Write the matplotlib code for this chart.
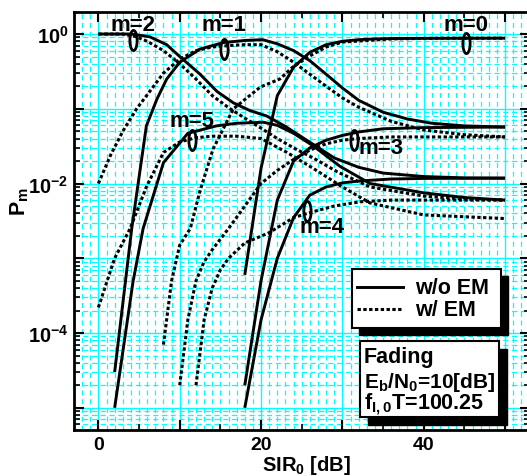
import numpy as np
import matplotlib
matplotlib.use("Agg")
import matplotlib.pyplot as plt
from matplotlib.path import Path
from matplotlib.patches import Rectangle
from matplotlib.lines import Line2D
from matplotlib.ticker import MultipleLocator, LogLocator, FuncFormatter, NullFormatter

plt.rcParams['font.family'] = ['Liberation Sans', 'DejaVu Sans']
plt.rcParams['font.weight'] = 'bold'
plt.rcParams['mathtext.fontset'] = 'custom'
plt.rcParams['mathtext.rm'] = 'Liberation Sans:bold'
plt.rcParams['mathtext.it'] = 'Liberation Sans:bold'
plt.rcParams['mathtext.bf'] = 'Liberation Sans:bold'
plt.rcParams['mathtext.default'] = 'rm'

# ---- data: P_m versus SIR_0 [dB] ----
# w/o EM (solid)
m0_s_x = [18, 20, 22, 24, 26, 28, 30, 32, 34, 36, 40, 50]
m0_s_y = [6e-4, 0.016, 0.15, 0.36, 0.57, 0.72, 0.8, 0.84, 0.86, 0.87, 0.875, 0.88]
m1_s_x = [2, 4.1, 5.9, 7.2, 8.4, 10, 12.5, 15.4, 18, 20.2, 22, 24, 26, 28, 30, 32, 35, 38, 41, 45, 50]
m1_s_y = [3e-5, 2.5e-3, 0.059, 0.135, 0.25, 0.42, 0.63, 0.77, 0.82, 0.84, 0.74, 0.6, 0.44, 0.29, 0.19,
          0.13, 0.09, 0.073, 0.064, 0.059, 0.057]
m2_s_x = [0, 4, 6.3, 8.4, 10, 12.5, 14.6, 16.6, 18.6, 20.7, 23, 26.3, 29, 32, 35, 40, 45, 50]
m2_s_y = [1.0, 1.0, 0.92, 0.72, 0.5, 0.29, 0.17, 0.12, 0.095, 0.08, 0.058, 0.034, 0.022, 0.0165,
          0.0138, 0.0124, 0.0119, 0.0118]
m3_s_x = [18, 20, 22, 24, 26, 28, 30, 32, 35, 40, 50]
m3_s_y = [2e-5, 5e-4, 6e-3, 0.02, 0.03, 0.038, 0.044, 0.049, 0.054, 0.056, 0.057]
m4_s_x = [18, 20, 22, 24, 26, 28, 30, 32, 36, 40, 50]
m4_s_y = [1e-5, 1.5e-4, 1e-3, 3.5e-3, 7e-3, 9e-3, 0.0102, 0.0108, 0.0115, 0.0117, 0.0118]
m5_s_x = [2, 4.25, 5.5, 8, 11, 14.5, 17, 20.3, 22, 24, 26.4, 29.7, 33.4, 40, 45, 50]
m5_s_y = [1e-5, 4.8e-4, 2.5e-3, 0.019, 0.047, 0.059, 0.064, 0.066, 0.06, 0.047, 0.032, 0.017, 0.01,
          0.0075, 0.0065, 0.006]

# w/ EM (dotted)
m0_d_x = [8, 9, 10, 11.3, 12.5, 14.1, 16.6, 19.9, 22.3, 24, 26, 28, 30, 36, 42, 50]
m0_d_y = [7e-5, 5e-4, 1.5e-3, 2.5e-3, 8e-3, 0.029, 0.1, 0.195, 0.25, 0.37, 0.51, 0.67, 0.78, 0.86,
          0.88, 0.88]
m1_d_x = [0, 1.5, 3, 4.7, 6.3, 8, 10, 12, 14, 16, 18, 20, 22, 24, 26, 28, 30, 32, 36, 40, 45, 50]
m1_d_y = [0.01, 0.024, 0.05, 0.1, 0.17, 0.3, 0.46, 0.6, 0.67, 0.7, 0.72, 0.72, 0.58, 0.42, 0.29, 0.2,
          0.14, 0.105, 0.068, 0.052, 0.045, 0.042]
m2_d_x = [0, 3, 4.5, 6, 8, 10, 12, 14, 16.2, 18, 20, 22, 24, 26.4, 29.4, 33.4, 40, 45, 50]
m2_d_y = [1.0, 1.0, 0.93, 0.8, 0.6, 0.4, 0.25, 0.15, 0.1, 0.075, 0.055, 0.04, 0.03, 0.022, 0.0143,
          0.009, 0.0068, 0.0062, 0.006]
m3_d_x = [10, 11, 12, 13, 14, 16, 18, 20, 22, 24, 26, 28, 30, 32, 36, 50]
m3_d_y = [2e-5, 1.5e-4, 5e-4, 9e-4, 1.3e-3, 2.5e-3, 5e-3, 0.01, 0.015, 0.021, 0.028, 0.034, 0.038,
          0.04, 0.042, 0.042]
m4_d_x = [12, 13, 14, 15, 16, 18, 21, 24, 26.4, 29, 32.2, 36, 50]
m4_d_y = [2e-5, 1.5e-4, 4e-4, 7e-4, 1e-3, 1.6e-3, 2.2e-3, 3.5e-3, 4.2e-3, 5e-3, 5.7e-3, 6e-3, 6e-3]
m5_d_x = [0, 2, 3.9, 5.9, 8, 10, 12, 14, 17, 20, 23.2, 26.4, 30, 33.4, 40, 50]
m5_d_y = [2.2e-4, 1e-3, 2.5e-3, 9e-3, 0.026, 0.036, 0.041, 0.043, 0.043, 0.04, 0.026, 0.016, 0.009,
          0.0055, 0.0038, 0.0034]

solid = [(m0_s_x, m0_s_y), (m1_s_x, m1_s_y), (m2_s_x, m2_s_y),
         (m3_s_x, m3_s_y), (m4_s_x, m4_s_y), (m5_s_x, m5_s_y)]
dotted = [(m0_d_x, m0_d_y), (m1_d_x, m1_d_y), (m2_d_x, m2_d_y),
          (m3_d_x, m3_d_y), (m4_d_x, m4_d_y), (m5_d_x, m5_d_y)]

m_names = ['m=0', 'm=1', 'm=2', 'm=3', 'm=4', 'm=5']
# where each group is marked with an ellipse (SIR_0 in dB)
ellipse_x = [45.2, 15.4, 4.2, 31.4, 25.6, 11.5]
label_x = [45.2, 15.4, 4.2, 34.7, 27.5, 11.5]
label_y = [1.36, 1.36, 1.36, 0.0299, 0.0027, 0.0707]

fig = plt.figure(figsize=(5.27, 4.77), dpi=100)
ax = fig.add_axes([0.1404, 0.0964, 0.8653, 0.8763])
ax.set_yscale('log')
ax.set_xlim(-3, 53.07)
ax.set_ylim(5.04e-6, 1.97)

cyan = '#00ffff'
# grid: solid at majors, dashed at minors
for gx in range(-3, 54):
    if gx % 10 == 0:
        ax.axvline(gx, color=cyan, lw=1.0, zorder=0)
    else:
        ax.axvline(gx, color=cyan, lw=0.9, ls=(0, (4, 3)), zorder=0)
for e in range(-6, 1):
    ax.axhline(10.0 ** e, color=cyan, lw=1.0, zorder=0)
    for s in range(2, 10):
        ax.axhline(s * 10.0 ** e, color=cyan, lw=0.9, ls=(0, (4, 3)), zorder=0)

for (sx, sy), (dx, dy) in zip(solid, dotted):
    ax.plot(sx, sy, color='black', lw=2.1, solid_capstyle='butt', zorder=3)
    ax.plot(dx, dy, color='black', lw=2.2, ls=(0, (1.1, 0.8)), zorder=3)

# ellipse marker
t = np.linspace(0, 2 * np.pi, 60)
ell = Path(np.column_stack([0.36 * np.cos(t), np.sin(t)]), closed=True)
for i, ex in enumerate(ellipse_x):
    ys = np.interp(ex, solid[i][0], np.log10(solid[i][1]))
    yd = np.interp(ex, dotted[i][0], np.log10(dotted[i][1]))
    ax.plot(ex, 10 ** ((ys + yd) / 2 - 0.06), marker=ell, ms=14.5, mfc='none',
            mec='black', mew=2.0, zorder=4)
    ax.text(label_x[i], label_y[i], m_names[i], fontsize=16, fontweight='bold',
            ha='center', va='center', zorder=5)

# ticks
ax.xaxis.set_major_locator(MultipleLocator(10))
ax.xaxis.set_minor_locator(MultipleLocator(5))
ax.xaxis.set_major_formatter(FuncFormatter(
    lambda v, p: '%d' % round(v) if round(v) % 20 == 0 and v >= 0 else ''))
ax.yaxis.set_major_locator(LogLocator(base=10, numticks=20))
ax.yaxis.set_minor_locator(LogLocator(base=10, subs=np.arange(2, 10), numticks=20))
ax.yaxis.set_minor_formatter(NullFormatter())
ax.yaxis.set_major_formatter(FuncFormatter(
    lambda v, p: r'$10^{%d}$' % round(np.log10(v)) if round(np.log10(v)) % 2 == 0 else ''))
ax.tick_params(which='both', direction='in', top=True, right=True)
ax.tick_params(axis='x', labelsize=14)
ax.tick_params(axis='y', labelsize=14.5)
ax.tick_params(which='major', length=7, width=1.5, pad=4)
ax.tick_params(which='minor', length=4, width=1.2)
for sp in ax.spines.values():
    sp.set_linewidth(2.0)

ax.set_xlabel(r'SIR$_0$ [dB]', fontsize=14.5, fontweight='bold')
ax.set_ylabel(r'P$_m$', fontsize=15.5, fontweight='bold')
ax.xaxis.set_label_coords(0.509, -0.055)
ax.yaxis.set_label_coords(-0.095, 0.55)

# legend box with shadow
tr = ax.transAxes
ax.add_patch(Rectangle((0.6096 + 0.0154, 0.244 - 0.0167), 0.3268, 0.141, transform=tr,
                       facecolor='black', edgecolor='black', zorder=6, clip_on=False))
ax.add_patch(Rectangle((0.6096, 0.244), 0.3268, 0.141, transform=tr, facecolor='white',
                       edgecolor='black', lw=1.5, zorder=7, clip_on=False))
ax.add_line(Line2D([0.6206, 0.7215], [0.342, 0.342], transform=tr, color='black', lw=2.1, zorder=8))
ax.add_line(Line2D([0.6206, 0.7215], [0.289, 0.289], transform=tr, color='black', lw=2.2,
                   ls=(0, (1.1, 0.8)), zorder=8))
ax.text(0.748, 0.342, 'w/o EM', transform=tr, fontsize=15.5, fontweight='bold', va='center', zorder=8)
ax.text(0.748, 0.289, 'w/ EM', transform=tr, fontsize=15.5, fontweight='bold', va='center', zorder=8)

# parameter box with shadow
ax.add_patch(Rectangle((0.627 + 0.0185, 0.031 - 0.0195), 0.305, 0.182, transform=tr,
                       facecolor='black', edgecolor='black', zorder=6, clip_on=False))
ax.add_patch(Rectangle((0.627, 0.031), 0.305, 0.182, transform=tr, facecolor='white',
                       edgecolor='black', lw=1.5, zorder=7, clip_on=False))
ax.text(0.636, 0.175, 'Fading', transform=tr, fontsize=15.5, fontweight='bold', va='center', zorder=8)
ax.text(0.636, 0.117, r'E$_b$/N$_0$=10[dB]', transform=tr, fontsize=15, fontweight='bold',
        va='center', zorder=8)
ax.text(0.636, 0.064, r'f$_{I,0}$T=100.25', transform=tr, fontsize=15.5, fontweight='bold',
        va='center', zorder=8)

fig.savefig('out.png', dpi=100)
